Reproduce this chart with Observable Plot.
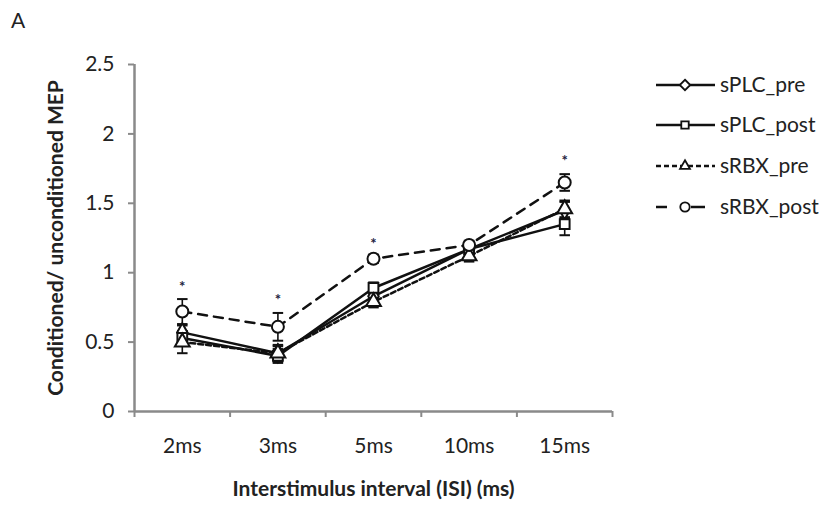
<!DOCTYPE html>
<html>
<head>
<meta charset="utf-8">
<script src="https://cdn.jsdelivr.net/npm/d3@7"></script>
<script src="https://cdn.jsdelivr.net/npm/@observablehq/plot@0.6"></script>
<style>
  html, body { margin: 0; padding: 0; background: #fff; }
  #wrap { position: relative; width: 826px; height: 510px; font-family: Lato, "Open Sans", sans-serif; }
  #panel { position: absolute; left: 11px; top: 7px; font-size: 21px; color: #222; }
  #legend { position: absolute; left: 0; top: 0; }
  #chart svg [aria-label="y-axis label"] text, #chart svg [aria-label="x-axis label"] text { font-weight: bold; }
</style>
</head>
<body>
<div id="wrap">
  <div id="chart"></div>
  <div id="panel">A</div>
  <svg id="legend" width="826" height="510"></svg>
</div>
<script>
const categories = ["2ms", "3ms", "5ms", "10ms", "15ms"];
const seriesNames = ["sPLC_pre", "sPLC_post", "sRBX_pre", "sRBX_post"];
const sPLC_pre = [0.57, 0.42, 0.83, 1.17, 1.45];
const sPLC_pre_err = [0.05, 0.05, 0.04, 0.04, 0.06];
const sPLC_post = [0.53, 0.40, 0.89, 1.17, 1.35];
const sPLC_post_err = [0.05, 0.05, 0.04, 0.04, 0.08];
const sRBX_pre = [0.50, 0.42, 0.79, 1.12, 1.46];
const sRBX_pre_err = [0.08, 0.06, 0.04, 0.04, 0.06];
const sRBX_post = [0.72, 0.61, 1.10, 1.20, 1.65];
const sRBX_post_err = [0.09, 0.10, 0.03, 0.03, 0.06];
const starCategories = ["2ms", "3ms", "5ms", "15ms"];
const starValues = [0.93, 0.84, 1.24, 1.84];
const yTicks = [0, 0.5, 1, 1.5, 2, 2.5];

const styles = {
  sPLC_pre:  {symbol: "diamond", dash: null, legendDash: null, r: 5.5},
  sPLC_post: {symbol: "square", dash: null, legendDash: null, r: 5.5},
  sRBX_pre:  {symbol: "triangle", dash: "5,3", legendDash: "5,3", r: 5.5},
  sRBX_post: {symbol: "circle", dash: "9,7", legendDash: "11,24,14,20", r: 6}
};
const valuesBy = {sPLC_pre, sPLC_post, sRBX_pre, sRBX_post};
const errBy = {sPLC_pre: sPLC_pre_err, sPLC_post: sPLC_post_err, sRBX_pre: sRBX_pre_err, sRBX_post: sRBX_post_err};

const rows = [];
for (const s of seriesNames) {
  categories.forEach((c, i) => rows.push({series: s, i: i + 0.5, cat: c, v: valuesBy[s][i], e: errBy[s][i]}));
}
const stars = starCategories.map((c, k) => ({i: categories.indexOf(c) + 0.5, v: starValues[k]}));
const capHalf = 0.055;
const ink = "#111";
const axisGray = "#8a8a8a";
const font = "Lato, 'Open Sans', sans-serif";

const marks = [];
// error bars
marks.push(Plot.link(rows, {x1: "i", x2: "i", y1: d => d.v - d.e, y2: d => d.v + d.e, stroke: ink, strokeWidth: 1.6}));
marks.push(Plot.link(rows, {x1: d => d.i - capHalf, x2: d => d.i + capHalf, y1: d => d.v + d.e, y2: d => d.v + d.e, stroke: ink, strokeWidth: 2}));
marks.push(Plot.link(rows, {x1: d => d.i - capHalf, x2: d => d.i + capHalf, y1: d => d.v - d.e, y2: d => d.v - d.e, stroke: ink, strokeWidth: 2}));
for (const s of seriesNames) {
  const data = rows.filter(d => d.series === s);
  marks.push(Plot.line(data, {x: "i", y: "v", stroke: ink, strokeWidth: 2.5, strokeDasharray: styles[s].dash}));
}
for (const s of seriesNames) {
  const data = rows.filter(d => d.series === s);
  marks.push(Plot.dot(data, {x: "i", y: "v", symbol: () => styles[s].symbol, r: styles[s].r, fill: "white", stroke: ink, strokeWidth: 2}));
}
marks.push(Plot.text(stars, {x: "i", y: "v", text: () => "*", fontSize: 15, dy: 5, fill: "#1d2240", fontWeight: "bold"}));
// axes
marks.push(Plot.ruleX([0], {y1: 0, y2: 2.5, stroke: axisGray, strokeWidth: 2.5}));
marks.push(Plot.ruleY([0], {stroke: axisGray, strokeWidth: 2.5}));
marks.push(Plot.axisY({ticks: yTicks, tickSize: 6, tickPadding: 14, stroke: axisGray, strokeWidth: 2, tickFormat: d => String(d), fontSize: 21, color: "#222",
  label: "Conditioned/ unconditioned MEP", labelAnchor: "center", labelArrow: "none", labelOffset: 86}));
marks.push(Plot.axisX({ticks: d3.range(0, categories.length + 1), tickSize: 6, stroke: axisGray, strokeWidth: 2, tickFormat: () => "", label: null}));
marks.push(Plot.axisX({ticks: categories.map((c, i) => i + 0.5), tickSize: 0, tickPadding: 27, tickFormat: d => categories[Math.round(d - 0.5)], fontSize: 21, color: "#222",
  label: "Interstimulus interval (ISI) (ms)", labelAnchor: "center", labelArrow: "none", labelOffset: 84}));

const chart = Plot.plot({
  width: 826,
  height: 510,
  marginLeft: 134,
  marginRight: 214,
  marginTop: 64,
  marginBottom: 99,
  style: {fontFamily: font, fontSize: "21px", color: "#222", background: "white"},
  x: {type: "linear", domain: [0, categories.length]},
  y: {domain: [0, 2.5]},
  marks
});
document.getElementById("chart").appendChild(chart);

// legend
const leg = d3.select("#legend");
const legY = [85, 125, 166, 207];
const symGen = {
  diamond: d3.symbolDiamond2, square: d3.symbolSquare2, triangle: d3.symbolTriangle2, circle: d3.symbolCircle
};
seriesNames.forEach((s, k) => {
  const g = leg.append("g").attr("transform", `translate(0,${legY[k]})`);
  g.append("line").attr("x1", 656).attr("x2", 715).attr("y1", 0).attr("y2", 0)
    .attr("stroke", ink).attr("stroke-width", 2.4)
    .attr("stroke-dasharray", styles[s].legendDash);
  g.append("path").attr("transform", "translate(685,0)")
    .attr("d", d3.symbol(symGen[styles[s].symbol], 70)())
    .attr("fill", "white").attr("stroke", ink).attr("stroke-width", 1.8);
  g.append("text").attr("x", 720).attr("y", 0).attr("dy", "0.35em")
    .attr("font-size", 21).attr("fill", "#222")
    .style("font-family", font).text(s);
});
</script>
</body>
</html>
